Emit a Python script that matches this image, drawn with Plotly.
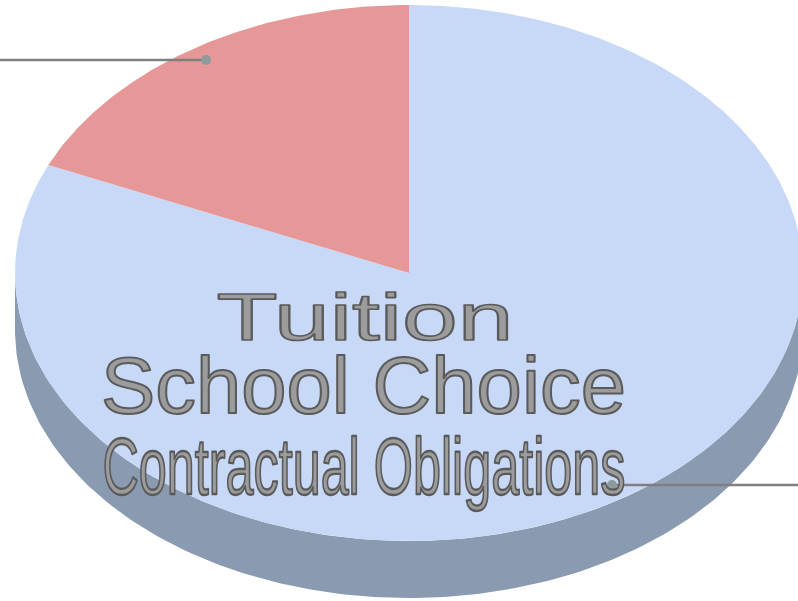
import json
import numpy as np
import plotly.graph_objects as go

# Pie data: share of the whole, clockwise from twelve o'clock
slice_names = ["Remaining share", "Highlighted share"]
slice_values = [81.6, 18.4]
slice_colors = ["#C7D9F7", "#E69797"]
side_color = "#8A9AB1"

# Labels stacked on the pie
label_texts = ["Tuition", "School Choice", "Contractual Obligations"]
label_centers_x = [365, 363.5, 364]
label_centers_y = [323, 393, 474]
label_sizes = [67, 79, 79]
label_widths = [297, 525, 523]

# Pie geometry in page pixels
CX, CY, RX, RY, DEPTH = 409, 273, 394, 268, 57


def ellipse_xy(theta, shift=0):
    """Point on the rim; theta is measured clockwise from the top."""
    return CX + RX * np.sin(theta), CY + shift - RY * np.cos(theta)


fig = go.Figure()

# Visible side wall of the disc
front = np.radians(np.linspace(90, 270, 181))
x_low, y_low = ellipse_xy(front, DEPTH)
x_up, y_up = ellipse_xy(front[::-1])
fig.add_trace(go.Scatter(
    x=np.r_[x_low, x_up], y=np.r_[y_low, y_up], mode="lines", fill="toself",
    fillcolor=side_color, line=dict(width=0), hoverinfo="skip",
))

# Top face wedges
total = sum(slice_values)
start = 0.0
for name, value, color in zip(slice_names, slice_values, slice_colors):
    sweep = value / total * 2 * np.pi
    theta = np.linspace(start, start + sweep, max(int(value * 6), 40))
    x_rim, y_rim = ellipse_xy(theta)
    fig.add_trace(go.Scatter(
        x=np.r_[CX, x_rim, CX], y=np.r_[CY, y_rim, CY], mode="lines", fill="toself",
        fillcolor=color, line=dict(width=0), name=name,
    ))
    start += sweep

# Leader lines with their anchor dots
for xs, ys in (([0, 206], [60, 60]), ([612, 798], [485, 485])):
    fig.add_trace(go.Scatter(
        x=xs, y=ys, mode="lines", line=dict(color="#7F7F7F", width=2.4), hoverinfo="skip",
    ))
    fig.add_trace(go.Scatter(
        x=[xs[0] if xs[0] else xs[1]], y=[ys[0]], mode="markers",
        marker=dict(color="#8E9A9C", size=10), hoverinfo="skip",
    ))

# Outlined labels
for text, x, y, size in zip(label_texts, label_centers_x, label_centers_y, label_sizes):
    fig.add_trace(go.Scatter(
        x=[x], y=[y], mode="text", text=[text], textposition="middle center",
        textfont=dict(family="Liberation Sans", size=size, color="#9C9C9C"),
        hoverinfo="skip", cliponaxis=False,
    ))

fig.update_layout(
    width=798, height=601, margin=dict(l=0, r=0, t=0, b=0),
    paper_bgcolor="white", plot_bgcolor="white", showlegend=False,
    xaxis=dict(range=[0, 798], visible=False, fixedrange=True),
    yaxis=dict(range=[601, 0], visible=False, fixedrange=True),
)

# Stretch each label to its width and give it a dark outline
stretch = """
const widths = %s;
document.querySelectorAll('.textpoint text').forEach((el, i) => {
  const x = parseFloat(el.getAttribute('x'));
  const sx = widths[i] / el.getComputedTextLength();
  el.setAttribute('transform', `translate(${x},0) scale(${sx},1) translate(${-x},0)`);
  el.style.stroke = '#5A5A5A';
  el.style.strokeWidth = '2px';
  el.style.strokeLinejoin = 'round';
  el.style.vectorEffect = 'non-scaling-stroke';
});
""" % json.dumps(label_widths)

fig.write_html("out.html", config={"staticPlot": True}, post_script=stretch)
